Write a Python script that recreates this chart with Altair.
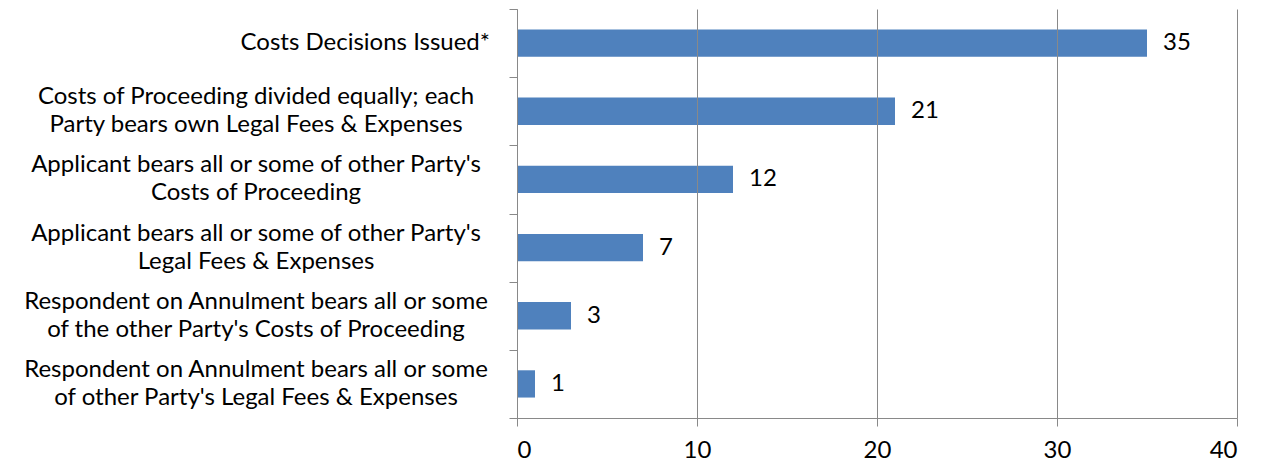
import altair as alt
import pandas as pd

categories = [
    "Costs Decisions Issued*",
    "Costs of Proceeding divided equally; each\nParty bears own Legal Fees & Expenses",
    "Applicant bears all or some of other Party's\nCosts of Proceeding",
    "Applicant bears all or some of other Party's\nLegal Fees & Expenses",
    "Respondent on Annulment bears all or some\nof the other Party's Costs of Proceeding",
    "Respondent on Annulment bears all or some\nof other Party's Legal Fees & Expenses",
]
counts = [35, 21, 12, 7, 3, 1]
x_ticks = [0, 10, 20, 30, 40]

df = pd.DataFrame({"category": categories, "count": counts})

BAR = "#4F81BD"
GRAY = "#898989"
FONT = "Lato"
FS = 24

y_scale = alt.Scale(paddingInner=0, paddingOuter=0)

y_enc = alt.Y(
    "category:N",
    sort=categories,
    scale=y_scale,
    axis=alt.Axis(
        title=None,
        labels=False,
        tickBand="extent",
        tickSize=8,
        tickColor=GRAY,
        domainColor=GRAY,
    ),
)

x_enc = alt.X(
    "count:Q",
    scale=alt.Scale(domain=[0, 40], nice=False),
    axis=alt.Axis(
        title=None,
        values=x_ticks,
        grid=True,
        gridColor=GRAY,
        gridWidth=1,
        domainColor=GRAY,
        tickColor=GRAY,
        tickSize=8,
        labelFont=FONT,
        labelFontSize=FS,
        labelColor="black",
        labelPadding=12,
        zindex=1,
    ),
)

base = alt.Chart(df)

bars = base.mark_bar(color=BAR, height={"band": 0.4}).encode(x=x_enc, y=y_enc)

values = base.mark_text(
    align="left", baseline="middle", dx=16, font=FONT, fontSize=FS, color="black"
).encode(
    x=alt.X("count:Q"),
    y=alt.Y("category:N", sort=categories),
    text=alt.Text("count:Q"),
)

single = "indexof(datum.category, '\\n') < 0"

cat_single = base.transform_filter(single).mark_text(
    align="right", baseline="middle", font=FONT, fontSize=FS, color="black",
    lineBreak="\n", lineHeight=28,
).encode(
    x=alt.value(-27),
    y=alt.Y("category:N", sort=categories),
    text="category:N",
)

cat_multi = base.transform_filter("!(" + single + ")").mark_text(
    align="center", baseline="middle", font=FONT, fontSize=FS, color="black",
    lineBreak="\n", lineHeight=28, dy=-14,
).encode(
    x=alt.value(-261),
    y=alt.Y("category:N", sort=categories),
    text="category:N",
)

chart = (
    alt.layer(bars, values, cat_single, cat_multi)
    .properties(
        width=720,
        height=409,
        autosize=alt.AutoSizeParams(type="none"),
        padding={"left": 509, "top": 1, "right": 14, "bottom": 44},
    )
    .configure_view(stroke=None)
)

chart.save("out.html", embed_options={"renderer": "svg", "actions": False})
